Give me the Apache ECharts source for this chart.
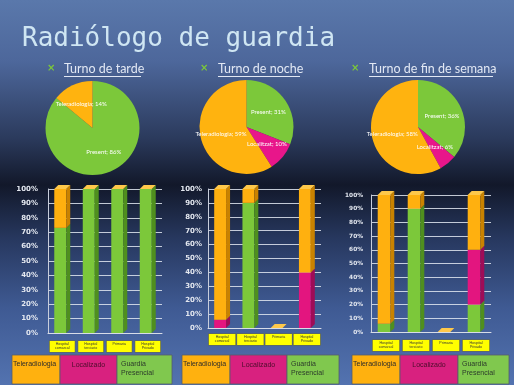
<!DOCTYPE html>
<html><head><meta charset="utf-8">
<script src="https://cdn.jsdelivr.net/npm/echarts@6/dist/echarts.min.js"></script>
<style>html,body{margin:0;padding:0;background:#2a3a5e}#c{width:514px;height:385px}</style>
</head><body><div id="c"></div>
<script>
// ---- data ----
var titleText = 'Radiólogo de guardia';
var shiftTitles = ['Turno de tarde', 'Turno de noche', 'Turno de fin de semana'];
var pieNames = ['Present', 'Localitzat', 'Teleradiologia'];
var pieTarde = [86, 0, 14];
var pieNoche = [31, 10, 59];
var pieFinde = [36, 6, 58];
var categories = ['Hospital\ncomarcal', 'Hospital\nterciario', 'Primaria', 'Hospital\nPrivado'];
var seriesNames = ['Teleradiologia', 'Localizado', 'Guardia Presencial'];
// bars: Guardia Presencial (bottom), Localizado (middle), Teleradiologia (top)
var tardePresencial = [73, 100, 100, 100];
var tardeLocalizado = [0, 0, 0, 0];
var tardeTele = [27, 0, 0, 0];
var nochePresencial = [0, 90, 0, 0];
var nocheLocalizado = [6, 0, 0, 40];
var nocheTele = [94, 10, 0, 60];
var findePresencial = [6, 90, 0, 20];
var findeLocalizado = [0, 0, 0, 40];
var findeTele = [94, 10, 0, 40];
var yTicks = [0, 10, 20, 30, 40, 50, 60, 70, 80, 90, 100];

// ---- styles ----
var C = {
  green: '#7cc83a', greenSide: '#4f8f1e', greenTop: '#9ee060',
  pink: '#e3157f', pinkSide: '#9e0c57', pinkTop: '#f24aa0',
  orange: '#ffb00f', orangeSide: '#c98200', orangeTop: '#ffc84a'
};
var legendColors = ['#ffb10f', '#d8217f', '#80c84e'];

var chart = echarts.init(document.getElementById('c'), null, {renderer: 'canvas'});

var grids = [
  {left: 48, top: 189, width: 114, height: 144},
  {left: 208, top: 189, width: 113, height: 139},
  {left: 371, top: 195, width: 120, height: 137}
];
var yLabelFont = [7, 7, 5.8];
var yLabelMargin = [10, 6, 8];
var barSets = [
  [tardePresencial, tardeLocalizado, tardeTele],
  [nochePresencial, nocheLocalizado, nocheTele],
  [findePresencial, findeLocalizado, findeTele]
];
var faceColors = [
  [C.green, C.greenSide, C.greenTop],
  [C.pink, C.pinkSide, C.pinkTop],
  [C.orange, C.orangeSide, C.orangeTop]
];
var stackNames = ['Guardia Presencial', 'Localizado', 'Teleradiologia'];

function makeRender(cols, isTop) {
  return function (params, api) {
    var cat = api.value(0), s = api.value(1), e = api.value(2);
    var p0 = api.coord([cat, s]);
    var p1 = api.coord([cat, e]);
    var band = api.size([1, 0])[0];
    var w = band * 0.42, d = 4;
    var x = p0[0] - w / 2 - 2;
    var ch = [];
    if (e > s) {
      ch.push({type: 'rect', shape: {x: x, y: p1[1], width: w, height: p0[1] - p1[1]}, style: {fill: cols[0]}});
      ch.push({type: 'polygon', shape: {points: [[x + w, p1[1]], [x + w + d, p1[1] - d], [x + w + d, p0[1] - d], [x + w, p0[1]]]}, style: {fill: cols[1]}});
    }
    if (isTop) {
      ch.push({type: 'polygon', shape: {points: [[x, p1[1]], [x + d, p1[1] - d], [x + w + d, p1[1] - d], [x + w, p1[1]]]}, style: {fill: cols[2]}});
    }
    return {type: 'group', children: ch};
  };
}

var xAxes = [], yAxes = [], series = [];
grids.forEach(function (g, gi) {
  xAxes.push({
    type: 'category', gridIndex: gi, data: categories,
    axisLine: {show: true, lineStyle: {color: '#d8dde8', width: 1}},
    axisTick: {show: false},
    axisLabel: {
      interval: 0, margin: gi === 1 ? 6 : 8, color: '#333', fontSize: 3.6, lineHeight: 4.2,
      fontFamily: 'Liberation Sans', backgroundColor: '#ffff00', borderColor: '#6a6a3a', borderWidth: 0.6,
      width: gi === 0 ? 25 : 26.5, height: 10, padding: [1, 0, 0, 0], align: 'center', verticalAlign: 'top', overflow: 'none'
    }
  });
  yAxes.push({
    type: 'value', gridIndex: gi, min: yTicks[0], max: yTicks[yTicks.length - 1], interval: yTicks[1] - yTicks[0],
    axisLine: {show: true, lineStyle: {color: '#c8cedc'}},
    axisTick: {show: false},
    axisLabel: {formatter: '{value}%', color: '#e4e8f0', fontSize: yLabelFont[gi], fontWeight: 'bold', fontFamily: 'DejaVu Sans', margin: yLabelMargin[gi]},
    splitLine: {show: true, lineStyle: {color: 'rgba(225,230,240,0.85)', width: 1}}
  });
  var set = barSets[gi];
  var cum = categories.map(function () { return 0; });
  set.forEach(function (vals, si) {
    var data = vals.map(function (v, ci) {
      var s = cum[ci]; cum[ci] += v;
      return [ci, s, cum[ci]];
    });
    series.push({
      type: 'custom', name: stackNames[si], xAxisIndex: gi, yAxisIndex: gi,
      renderItem: makeRender(faceColors[si], si === set.length - 1),
      encode: {x: 0, y: [1, 2]}, data: data, silent: true, z: 3
    });
  });
});

var pieCenters = [[92.5, 128], [246.5, 127], [418, 127]];
var pieSets = [pieTarde, pieNoche, pieFinde];
var pieColors = {Present: C.green, Localitzat: '#e8168a', Teleradiologia: '#ffb30f'};
pieSets.forEach(function (vals, pi) {
  var data = [];
  vals.forEach(function (v, i) {
    if (v > 0) data.push({name: pieNames[i], value: v, itemStyle: {color: pieColors[pieNames[i]]}});
  });
  series.push({
    type: 'pie', center: pieCenters[pi], radius: 47, startAngle: 90, clockwise: true,
    data: data, silent: true, animation: false,
    label: {show: true, position: 'inside', formatter: '{b}; {c}%', color: '#ffffff', fontSize: 6, fontFamily: 'Lato'},
    labelLine: {show: false}
  });
});

// graphics: title, headers, legend boxes
var graphics = [];
graphics.push({type: 'text', left: 22, top: 26, style: {text: titleText, fill: '#cfe6f3', font: '26px "DejaVu Sans Mono"'}});
var headerPos = [[47, 64], [200, 218], [351, 369]];
shiftTitles.forEach(function (t, i) {
  graphics.push({type: 'text', x: headerPos[i][0], y: 63, style: {text: '×', fill: '#7cc83a', font: 'bold 10px "DejaVu Sans"'}});
  graphics.push({type: 'text', x: headerPos[i][1], y: 62, style: {text: t, fill: '#e2e8f4', font: '12.5px Lato'}});
});
var underlines = [[64, 141], [218, 300], [369, 493]];
underlines.forEach(function (u) {
  graphics.push({type: 'line', shape: {x1: u[0], y1: 76.5, x2: u[1], y2: 76.5}, style: {stroke: '#e2e8f4', lineWidth: 1}});
});
var legendBoxes = [
  [[12, 60], [60, 117], [117, 172]],
  [[182, 230], [230, 287], [287, 339]],
  [[352, 400], [400, 458], [458, 509]]
];
legendBoxes.forEach(function (boxes) {
  boxes.forEach(function (b, i) {
    graphics.push({type: 'rect', shape: {x: b[0], y: 355, width: b[1] - b[0], height: 29}, style: {fill: legendColors[i], stroke: '#555d6a', lineWidth: 0.8}});
    var name = seriesNames[i];
    if (i === 0) {
      graphics.push({type: 'text', x: b[0] + 1, y: 361, style: {text: name, fill: '#2b2b2b', font: '7px "Liberation Sans"'}});
    } else if (i === 1) {
      graphics.push({type: 'text', x: (b[0] + b[1]) / 2, y: 362, style: {text: name, fill: '#4a0d2a', font: '7px "Liberation Sans"', align: 'center'}});
    } else {
      graphics.push({type: 'text', x: b[0] + 4, y: 360, style: {text: name.replace(' ', '\n'), fill: '#2b3a2b', font: '7px "Liberation Sans"', lineHeight: 9}});
    }
  });
});

chart.setOption({
  animation: false,
  backgroundColor: {
    type: 'linear', x: 0, y: 0, x2: 0, y2: 1,
    colorStops: [
      {offset: 0, color: '#5a78ab'},
      {offset: 0.16, color: '#4d679b'},
      {offset: 0.36, color: '#2b3a5c'},
      {offset: 0.48, color: '#12182a'},
      {offset: 0.62, color: '#27385f'},
      {offset: 0.8, color: '#3f5a93'},
      {offset: 1, color: '#5373b0'}
    ]
  },
  grid: grids,
  xAxis: xAxes,
  yAxis: yAxes,
  series: series,
  graphic: graphics
});
</script></body></html>
